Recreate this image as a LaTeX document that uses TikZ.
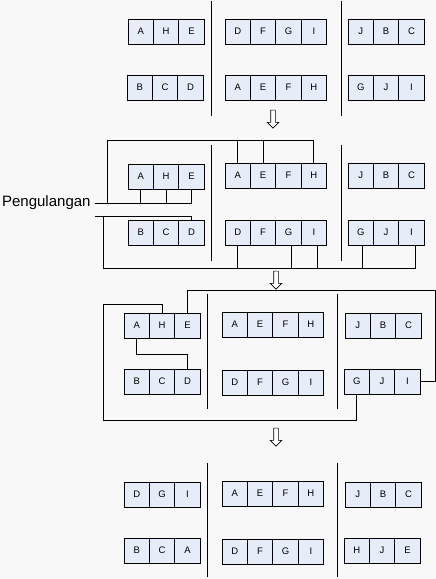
\documentclass[tikz,border=0pt]{standalone}
\usepackage{fontspec}
\setmainfont{Liberation Sans}
\usetikzlibrary{shapes.arrows}
\definecolor{cfill}{HTML}{E7EDF8}
\definecolor{cback}{HTML}{F8F8F8}
\tikzset{
  every picture/.style={line width=0.9pt},
  cell/.style={draw, fill=cfill, anchor=north west, minimum width=25.4pt, minimum height=25pt, inner sep=0pt, outer sep=0pt, font=\fontsize{9.5}{11}\selectfont},
  sep/.style={line width=1pt},
  link/.style={line width=0.9pt},
  down/.style={draw, fill=white, shape=single arrow, rotate=-90, minimum height=18pt, minimum width=11pt, inner sep=2pt, single arrow head extend=3.5pt, line width=0.6pt},
}
% one row of cells: name, left x, top y, letters
\newcommand{\cellrow}[4]{%
  \foreach \lab [count=\i] in {#4}
    \node[cell] (#1-\i) at ({#2+(\i-1)*25.4},#3) {\lab};}
\begin{document}
\begin{tikzpicture}[x=1pt, y=-1pt]
  \fill[cback] (0,0) rectangle (436,579);
  \useasboundingbox (0,0) rectangle (436,579);

  % step 1
  \cellrow{p1lt}{128}{19}{A,H,E}
  \cellrow{p1mt}{225}{19}{D,F,G,I}
  \cellrow{p1rt}{348}{19}{J,B,C}
  \cellrow{p1lb}{127}{75}{B,C,D}
  \cellrow{p1mb}{225}{75}{A,E,F,H}
  \cellrow{p1rb}{348}{75}{G,J,I}
  \draw[sep] (211,1) -- (211,116);
  \draw[sep] (341,1) -- (341,116);
  \node[down] (arr1) at (273,118) {};

  % step 2
  \cellrow{p2lt}{128}{164}{A,H,E}
  \cellrow{p2mt}{225}{163}{A,E,F,H}
  \cellrow{p2rt}{348}{163}{J,B,C}
  \cellrow{p2lb}{128}{220}{B,C,D}
  \cellrow{p2mb}{225}{220}{D,F,G,I}
  \cellrow{p2rb}{348}{220}{G,J,I}
  \draw[sep] (211,145) -- (211,261);
  \draw[sep] (341,145) -- (341,261);
  \node[anchor=east, inner sep=4pt, font=\fontsize{15}{17}\selectfont] (peng) at (95,203) {Pengulangan};
  \coordinate (j2a) at (107,203);
  \coordinate (t2) at (107,140);
  \coordinate (s2) at (95,216);
  \coordinate (j2b) at (103,216);
  \coordinate (b2) at (103,268);
  \draw[link] (peng.east) -| (p2lt-3.south);
  \draw[link] (p2lt-1.south) -- (p2lt-1.south |- peng.east);
  \draw[link] (p2lt-2.south) -- (p2lt-2.south |- peng.east);
  \draw[link] (j2a) -- (t2) -| (p2mt-4.north);
  \draw[link] (p2mt-1.north) -- (p2mt-1.north |- t2);
  \draw[link] (p2mt-2.north) -- (p2mt-2.north |- t2);
  \draw[link] (s2) -| (p2lb-3.north);
  \draw[link] (j2b) -- (b2) -| ([xshift=4pt]p2rb-3.south);
  \draw[link] (p2mb-1.south) -- (p2mb-1.south |- b2);
  \draw[link] ([xshift=3pt]p2mb-3.south) -- ([xshift=3pt]p2mb-3.south |- b2);
  \draw[link] ([xshift=4pt]p2mb-4.south) -- ([xshift=4pt]p2mb-4.south |- b2);
  \draw[link] ([xshift=2pt]p2rb-1.south) -- ([xshift=2pt]p2rb-1.south |- b2);
  \node[down] (arr2) at (276,279) {};

  % step 3
  \cellrow{p3lt}{124}{313}{A,H,E}
  \cellrow{p3mt}{222}{312}{A,E,F,H}
  \cellrow{p3rt}{345}{313}{J,B,C}
  \cellrow{p3lb}{124}{369}{B,C,D}
  \cellrow{p3mb}{222}{370}{D,F,G,I}
  \cellrow{p3rb}{344}{369}{G,J,I}
  \draw[sep] (207,294) -- (207,409);
  \draw[sep] (337,294) -- (337,409);
  \coordinate (c3r) at (435,290);
  \coordinate (c3a) at (103,304);
  \coordinate (c3b) at (103,420);
  \draw[link] (p3lt-3.north) |- (c3r) |- (p3rb-3.east);
  \draw[link] (p3lt-2.north) |- (c3a) -- (c3b) -| (p3rb-1.south);
  \draw[link] (p3lt-1.south) -- ([yshift=-16pt]p3lt-1.south) -| (p3lb-3.north);
  \node[down] (arr3) at (276,436) {};

  % step 4
  \cellrow{p4lt}{124}{482}{D,G,I}
  \cellrow{p4mt}{222}{481}{A,E,F,H}
  \cellrow{p4rt}{345}{482}{J,B,C}
  \cellrow{p4lb}{124}{538}{B,C,A}
  \cellrow{p4mb}{222}{539}{D,F,G,I}
  \cellrow{p4rb}{344}{538}{H,J,E}
  \draw[sep] (207,463) -- (207,577);
  \draw[sep] (337,463) -- (337,577);
\end{tikzpicture}
\end{document}
